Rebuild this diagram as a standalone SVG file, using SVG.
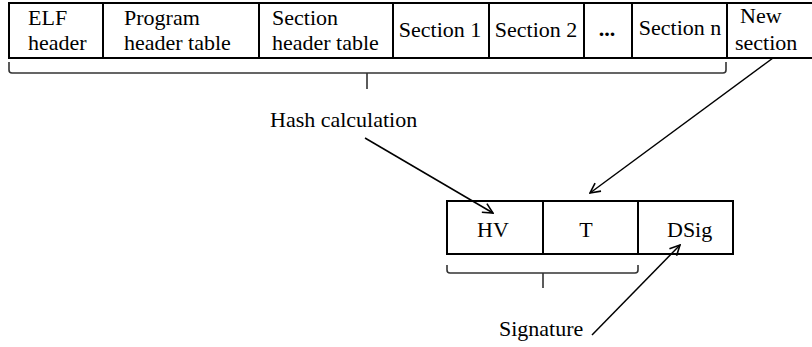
<svg xmlns="http://www.w3.org/2000/svg" width="812" height="347" viewBox="0 0 812 347">
<defs>
<style>
.t{font-family:"Liberation Serif","Times New Roman",serif;font-size:22px;fill:#000}
.m{text-anchor:middle}
.box{fill:#fff;stroke:#000;stroke-width:2}
.ln{fill:none;stroke:#000;stroke-width:2}
.br{fill:none;stroke:#333;stroke-width:1.6}
.ar{fill:none;stroke:#000;stroke-width:1.5}
</style>
<marker id="ah" viewBox="0 0 12 12" refX="11" refY="6" markerWidth="12" markerHeight="12" markerUnits="userSpaceOnUse" orient="auto">
<path d="M1,1 L11,6 L1,11" fill="none" stroke="#000" stroke-width="1.6"/>
</marker>
</defs>
<rect width="812" height="347" fill="#fff"/>
<g id="top-row">
<line class="ln" x1="9" y1="3" x2="812" y2="3"/>
<line class="ln" x1="9" y1="58" x2="812" y2="58"/>
<line class="ln" x1="9" y1="2" x2="9" y2="59"/>
</g>
<g id="elf-header"><line class="ln" x1="103" y1="3" x2="103" y2="58"/><text class="t" x="28" y="25">ELF</text><text class="t" x="28" y="50">header</text></g>
<g id="program-header-table"><line class="ln" x1="259" y1="3" x2="259" y2="58"/><text class="t" x="124" y="25">Program</text><text class="t" x="124" y="50">header table</text></g>
<g id="section-header-table"><line class="ln" x1="393" y1="3" x2="393" y2="58"/><text class="t" x="272" y="25">Section</text><text class="t" x="272" y="50">header table</text></g>
<g id="section-1"><line class="ln" x1="489" y1="3" x2="489" y2="58"/><text class="t m" x="440" y="37">Section 1</text></g>
<g id="section-2"><line class="ln" x1="584" y1="3" x2="584" y2="58"/><text class="t m" x="536" y="37">Section 2</text></g>
<g id="ellipsis"><line class="ln" x1="632" y1="3" x2="632" y2="58"/><text class="t m" x="607" y="36" font-weight="bold">...</text></g>
<g id="section-n"><line class="ln" x1="727" y1="3" x2="727" y2="58"/><text class="t m" x="680" y="35">Section n</text></g>
<g id="new-section"><text class="t" x="740" y="23">New</text><text class="t" x="735" y="50">section</text></g>
<g id="top-bracket"><path class="br" d="M9,62 V70 Q9,73 12,73 H723 Q726,73 726,70 V62 M367,73 V89"/></g>
<g id="hash-calculation"><text class="t" x="270" y="127">Hash calculation</text></g>
<g id="bottom-row">
<g id="hv"><rect class="box" x="447" y="201" width="96" height="53"/><text class="t m" x="493" y="237">HV</text></g>
<g id="t"><rect class="box" x="543" y="201" width="95" height="53"/><text class="t m" x="586" y="237">T</text></g>
<g id="dsig"><rect class="box" x="638" y="201" width="95" height="53"/><text class="t" x="667" y="237">DSig</text></g>
</g>
<g id="bottom-bracket"><path class="br" d="M447,265 V270 Q447,273 450,273 H635 Q638,273 638,270 V265 M543,273 V288"/></g>
<g id="signature"><text class="t" x="499" y="336">Signature</text></g>
<g id="connectors">
<line class="ar" x1="365" y1="138" x2="493" y2="213" marker-end="url(#ah)"/>
<line class="ar" x1="773" y1="58" x2="590" y2="193" marker-end="url(#ah)"/>
<line class="ar" x1="592" y1="335" x2="680" y2="245" marker-end="url(#ah)"/>
</g>
</svg>
